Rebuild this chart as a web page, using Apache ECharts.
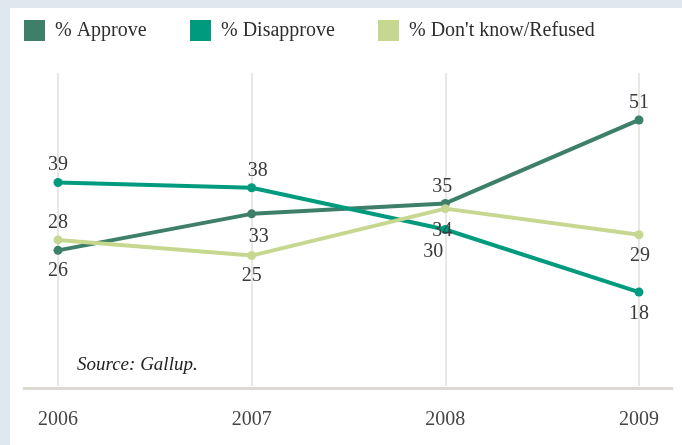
<!DOCTYPE html>
<html>
<head>
<meta charset="utf-8">
<script src="https://cdn.jsdelivr.net/npm/echarts@6/dist/echarts.min.js"></script>
<style>
  html, body { margin: 0; padding: 0; background: #e0e7ef; }
  #chart { position: absolute; left: 10px; top: 8px; width: 672px; height: 437px; background: #ffffff; }
</style>
</head>
<body>
<div id="chart"></div>
<script>
// ---- data ----
const years = ['2006', '2007', '2008', '2009'];
const approve = [26, 33, 35, 51];
const disapprove = [39, 38, 30, 18];
const dontKnow = [28, 25, 34, 29];
const seriesNames = ['% Approve', '% Disapprove', "% Don't know/Refused"];
const sourceNote = 'Source: Gallup.';

// ---- styling ----
const colors = ['#3e7f6a', '#009b7e', '#c6d78f'];
const font = 'Liberation Serif';
// label placement per point (style only)
const placements = [
  [['bottom', [0, 2]], ['bottom', [7, 4]], ['top', [-3, 2]], ['top', [0, 1]]],
  [['top', [0, 1]], ['top', [6, 1]], ['bottom', [-12, 4]], ['bottom', [0, 3]]],
  [['top', [0, 1]], ['bottom', [0, 2]], ['bottom', [-3, 4]], ['bottom', [1, 3]]]
];

function buildData(values, idx) {
  return values.map((v, i) => ({
    value: v,
    label: { position: placements[idx][i][0], offset: placements[idx][i][1] }
  }));
}

const chart = echarts.init(document.getElementById('chart'));

const allValues = [approve, disapprove, dontKnow];

const series = allValues.map((vals, idx) => ({
  name: seriesNames[idx],
  type: 'line',
  xAxisIndex: 0,
  yAxisIndex: 0,
  data: buildData(vals, idx),
  symbol: 'circle',
  symbolSize: 9,
  lineStyle: { width: 4, color: colors[idx] },
  itemStyle: { color: colors[idx] },
  label: {
    show: true,
    distance: 4,
    color: '#3a3a3a',
    fontFamily: font,
    fontSize: 20
  },
  emphasis: { disabled: true },
  animation: false,
  z: 3 + idx
}));

const legendLefts = [14, 180, 368];
const legends = seriesNames.map((n, i) => ({
  data: [n],
  left: legendLefts[i],
  top: 12,
  padding: 0,
  icon: 'rect',
  itemWidth: 21,
  itemHeight: 21,
  selectedMode: false,
  textStyle: { fontFamily: font, fontSize: 20, color: '#2e2e2e', padding: [0, 0, 0, 5] }
}));

chart.setOption({
  animation: false,
  color: colors,
  title: {
    text: sourceNote,
    left: 67,
    top: 347,
    padding: 0,
    textStyle: { fontFamily: font, fontStyle: 'italic', fontWeight: 'normal', fontSize: 19, color: '#222' }
  },
  legend: legends,
  grid: [
    { left: 48, right: 43, top: 65, bottom: 59 },
    { left: 14, right: 10, top: 65, bottom: 57 }
  ],
  xAxis: [
    {
      type: 'category',
      gridIndex: 0,
      data: years,
      boundaryGap: false,
      axisLine: { show: false },
      axisTick: { show: false },
      axisLabel: { color: '#444', fontFamily: font, fontSize: 20, margin: 24 },
      splitLine: { show: true, lineStyle: { color: '#e3dfda', width: 1.5 } }
    },
    {
      type: 'category',
      gridIndex: 1,
      data: years,
      boundaryGap: false,
      axisLine: { show: true, lineStyle: { color: '#dcd8d2', width: 3 } },
      axisTick: { show: false },
      axisLabel: { show: false },
      splitLine: { show: false }
    }
  ],
  yAxis: [
    { type: 'value', gridIndex: 0, min: 0, max: 60, show: false },
    { type: 'value', gridIndex: 1, min: 0, max: 60, show: false }
  ],
  series: series
});
</script>
</body>
</html>
